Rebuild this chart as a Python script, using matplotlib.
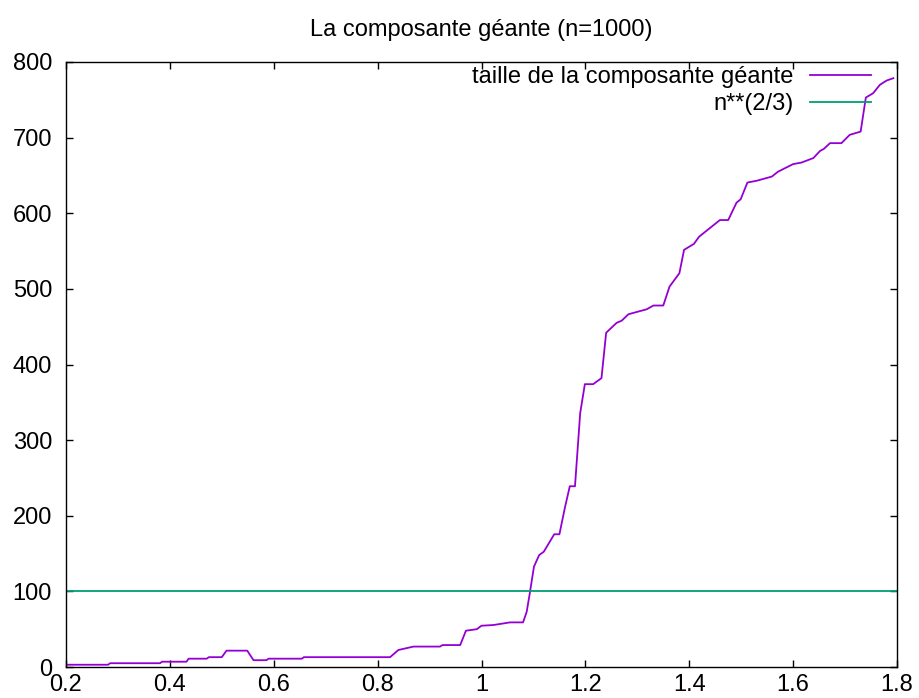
import matplotlib
matplotlib.use("Agg")
import matplotlib.pyplot as plt

plt.rcParams['font.family'] = ['Liberation Sans', 'DejaVu Sans']

# data
#--------------------------------------
n = 1000
p_values = [0.2, 0.281, 0.285, 0.381, 0.385, 0.432, 0.436, 0.471, 0.475, 0.500,
            0.509, 0.549, 0.561, 0.586, 0.590, 0.654, 0.658, 0.824, 0.840, 0.869,
            0.920, 0.925, 0.959, 0.970, 0.991, 1.0, 1.023, 1.055, 1.080, 1.087,
            1.093, 1.101, 1.111, 1.120, 1.140, 1.150, 1.161, 1.170, 1.180, 1.190,
            1.199, 1.215, 1.231, 1.240, 1.260, 1.270, 1.283, 1.318, 1.331, 1.350,
            1.362, 1.381, 1.390, 1.409, 1.419, 1.459, 1.475, 1.491, 1.499, 1.512,
            1.530, 1.559, 1.571, 1.600, 1.616, 1.639, 1.652, 1.659, 1.671, 1.693,
            1.709, 1.730, 1.740, 1.754, 1.767, 1.780, 1.793]
giant_size = [3, 3, 5, 5, 7, 7, 11, 11, 13, 13,
              21.6, 21.6, 9, 9, 11, 11, 13, 13, 22.5, 27,
              27, 29, 29, 48, 50, 54.6, 55.5, 59, 59, 73,
              97.5, 132.7, 148, 152.5, 175.5, 175.5, 212, 239, 239, 335.6,
              374, 374, 382, 442, 455, 458, 466.5, 473, 478, 478,
              503, 520.7, 551.6, 559.5, 569, 591, 591, 614, 618.5, 640.6,
              643, 648.5, 655, 665, 667, 673, 682.5, 685, 692.7, 692.7,
              703.7, 708, 753, 758.7, 769.8, 775.5, 778.6]
x_range = [0.2, 1.8]
x_ticks = [0.2, 0.4, 0.6, 0.8, 1, 1.2, 1.4, 1.6, 1.8]
x_labels = ["0.2", "0.4", "0.6", "0.8", "1", "1.2", "1.4", "1.6", "1.8"]
y_ticks = [0, 100, 200, 300, 400, 500, 600, 700, 800]

fs = 17

# start to draw
#--------------------------------------
fig = plt.figure(figsize=(9.19, 6.98), dpi=100)
ax = fig.add_axes([66/919, 1-667/698, (897-66)/919, (667-62)/698])

ax.plot(p_values, giant_size, color='#9400d3', lw=1.3, label="taille de la composante géante")
ax.plot(x_range, [n**(2/3)]*2, color='#009e73', lw=1.3, label="n**(2/3)")

ax.set_xlim(x_range)
ax.set_ylim(0, 800)
ax.set_xticks(x_ticks)
ax.set_xticklabels(x_labels)
ax.set_yticks(y_ticks)
ax.tick_params(direction='in', length=5, width=1, top=True, right=True, labelsize=fs, colors='black')
ax.tick_params(axis='x', pad=5)
ax.tick_params(axis='y', pad=10)
for s in ax.spines.values():
    s.set_linewidth(1)

ax.set_title("La composante géante (n=1000)", fontsize=fs, pad=19)

leg = ax.legend(loc='upper right', frameon=False, markerfirst=False, fontsize=fs,
                handlelength=2.6, handletextpad=0.67, labelspacing=0.22,
                borderaxespad=0, borderpad=0)
leg.set_bbox_to_anchor((871/919, 1-66/698), transform=fig.transFigure)

plt.savefig("out.png")
